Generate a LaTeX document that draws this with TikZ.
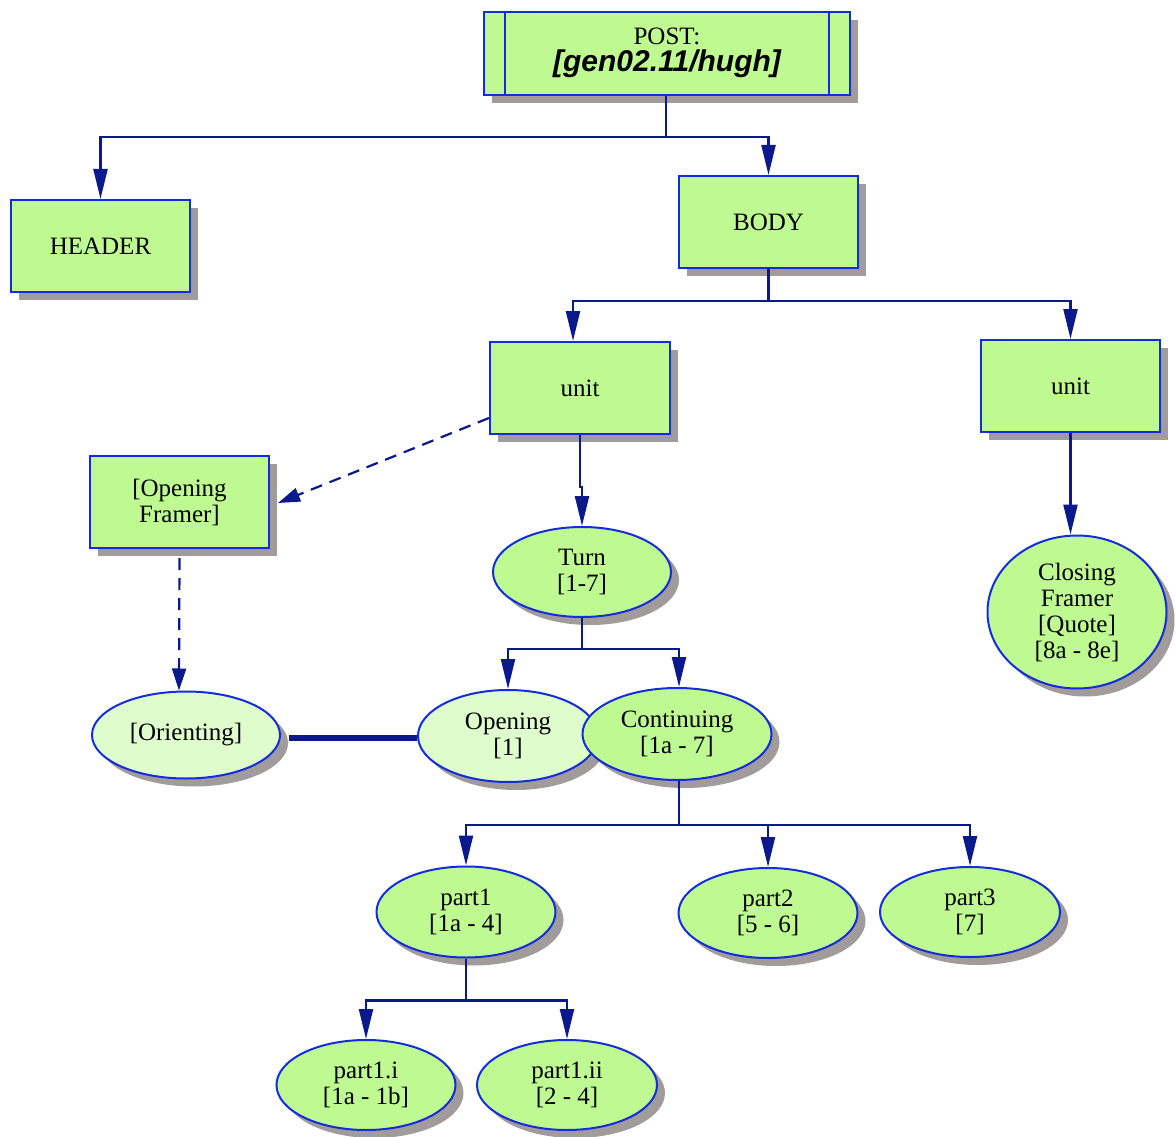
\documentclass[tikz,border=0pt]{standalone}
\usepackage{fontspec}
\setmainfont{Liberation Serif}
\newfontfamily\headsans{Liberation Sans}
\usetikzlibrary{shapes.geometric,shadows,arrows.meta}
\definecolor{boxgreen}{RGB}{190,250,145}
\definecolor{palegreen}{RGB}{222,252,204}
\definecolor{rimblue}{RGB}{20,45,220}
\definecolor{linknavy}{RGB}{10,25,140}
\definecolor{shadegrey}{RGB}{162,155,155}
\tikzset{
  shade8/.style={drop shadow={shadow xshift=8pt, shadow yshift=-8pt, fill=shadegrey, opacity=1}},
  box/.style={draw=rimblue, line width=2pt, fill=boxgreen, shade8, rectangle,
    minimum width=179pt, minimum height=92pt, inner sep=0pt, align=center,
    font=\fontsize{25}{26}\selectfont},
  oval/.style={draw=rimblue, line width=2pt, fill=boxgreen, shade8, ellipse,
    inner sep=0pt, align=center, font=\fontsize{25}{26}\selectfont},
  pale/.style={fill=palegreen},
  edge/.style={draw=linknavy, line width=2.2pt,
    -{Triangle[length=30pt,width=14pt]}},
  softedge/.style={draw=linknavy, line width=2.2pt, dash pattern=on 12pt off 8pt,
    -{Triangle[length=22pt,width=14pt]}},
}
\begin{document}
\begin{tikzpicture}[x=1pt,y=-1pt]
\useasboundingbox (0,0) rectangle (1176,1137);

% rectangular nodes
\node[box, minimum width=366pt, minimum height=83pt] (post) at (667,53.5) {};
\node[font=\fontsize{25}{26}\selectfont, inner sep=0pt] (posthead) at (667,36) {POST:};
\node[font=\headsans\bfseries\itshape\fontsize{30}{30}\selectfont, inner sep=0pt] (postname) at (667,64) {[gen02.11/hugh]};
\draw[rimblue, line width=2pt] ([xshift=22pt]post.north west) -- ([xshift=22pt]post.south west);
\draw[rimblue, line width=2pt] ([xshift=-22pt]post.north east) -- ([xshift=-22pt]post.south east);

\node[box] (header) at (100.5,246) {HEADER};
\node[box] (body) at (768.5,222) {BODY};
\node[box, minimum width=180pt] (unitA) at (580,388) {unit};
\node[box] (unitB) at (1070.5,386) {unit};
\node[box] (opfr) at (179.5,502) {[Opening\\Framer]};

% elliptical nodes
\node[oval, minimum width=178pt, minimum height=90pt] (turn) at (582,572) {Turn\\{[1-7]}};
\node[oval, pale, minimum width=188pt, minimum height=87pt] (orient) at (186,735) {[Orienting]};
\node[oval, pale, minimum width=180pt, minimum height=92pt] (opening) at (508,736) {Opening\\{[1]}};
\node[oval, minimum width=189pt, minimum height=92pt] (cont) at (677,734) {Continuing\\{[1a - 7]}};
\node[oval, minimum width=179pt, minimum height=153pt] (closing) at (1077,612)
  {Closing\\Framer\\{[Quote]}\\{[8a - 8e]}};
\node[oval, minimum width=179pt, minimum height=91pt] (partA) at (466,912) {part1\\{[1a - 4]}};
\node[oval, minimum width=179pt, minimum height=90pt] (partB) at (768,913) {part2\\{[5 - 6]}};
\node[oval, minimum width=180pt, minimum height=90pt] (partC) at (970,912) {part3\\{[7]}};
\node[oval, minimum width=179pt, minimum height=90pt] (partAi) at (366,1085) {part1.i\\{[1a - 1b]}};
\node[oval, minimum width=180pt, minimum height=90pt] (partAii) at (567,1085) {part1.ii\\{[2 - 4]}};

% tree connectors
\draw[edge] ([xshift=-1pt]post.south) -- ++(0,41) -| (header.north);
\draw[edge] ([xshift=-1pt]post.south) -- ++(0,41) -| (body.north);
\draw[edge] (body.south) -- ++(0,32) -| ([xshift=-7pt]unitA.north);
\draw[edge] (body.south) -- ++(0,32) -| (unitB.north);
\draw[edge] (unitA.south) -- ++(0,52) -| (turn.north);
\draw[edge] (unitB.south) -- (unitB.south |- closing.north);
\draw[edge] (turn.south) -- ++(0,31) -| (opening.north);
\draw[edge] (turn.south) -- ++(0,31) -| ([xshift=2pt]cont.north);
\draw[edge] ([xshift=2pt]cont.south) -- ++(0,44) -| (partA.north);
\draw[edge] ([xshift=2pt]cont.south) -- ++(0,44) -| (partB.north);
\draw[edge] ([xshift=2pt]cont.south) -- ++(0,44) -| (partC.north);
\draw[edge] (partA.south) -- ++(0,42) -| (partAi.north);
\draw[edge] (partA.south) -- ++(0,42) -| (partAii.north);

% dashed links to the framing nodes
\draw[softedge] ([yshift=-30pt]unitA.west) -- ([shift={(8pt,-1pt)}]opfr.east);
\draw[softedge] ([yshift=-9pt]opfr.south) -- ([xshift=-7pt]orient.north);

% heavy bar joining orienting and opening
\draw[linknavy, line width=6pt] ([shift={(8pt,-3pt)}]orient.east) -- (opening.west |- 0,738);
\end{tikzpicture}
\end{document}
